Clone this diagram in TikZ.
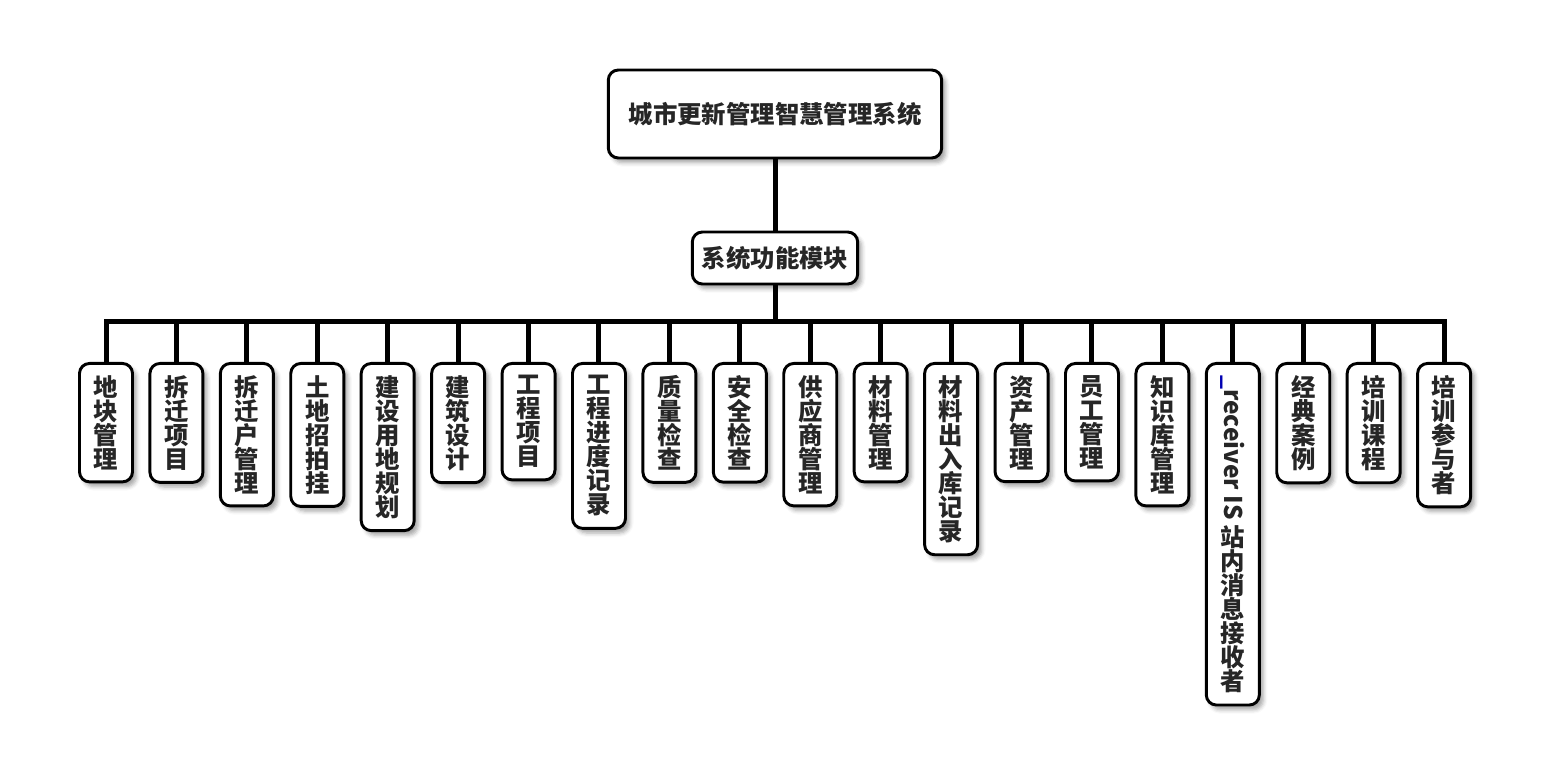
\documentclass[tikz,border=0pt]{standalone}
\usepackage{fontspec}
\setmainfont{Noto Sans CJK SC}
\usepackage{graphicx}
\usetikzlibrary{positioning,shadows.blur}

\begin{document}
\begin{tikzpicture}[
  x=0.75pt, y=0.75pt,
  every node/.style={font=\bfseries\fontsize{18.3pt}{18pt}\selectfont, text=black!85},
  box/.style={draw, line width=2.2pt, rounded corners=7.5pt, fill=white,
              align=center,
              blur shadow={shadow xshift=3pt, shadow yshift=-3.5pt,
                           shadow blur radius=3pt, shadow opacity=35}},
  root/.style={box, minimum width=250pt, minimum height=66pt},
  module/.style={box, minimum width=124pt, minimum height=39pt},
  leaf/.style={box, minimum width=39.75pt, inner xsep=2pt, inner ysep=9pt},
  link/.style={line width=3.75pt},
]
\useasboundingbox (0,0) rectangle (1550,778);

\node[root] (sys) at (775,664) {城市更新管理智慧管理系统};
\node[module] (mod) at (775,520) {系统功能模块};
\coordinate (bus) at (775,456);

\node[leaf, anchor=north] (l1) at (106,416) {地\\块\\管\\理};
\node[leaf, right=10.87pt of l1.north east, anchor=north west] (l2) {拆\\迁\\项\\目};
\node[leaf, right=10.87pt of l2.north east, anchor=north west] (l3) {拆\\迁\\户\\管\\理};
\node[leaf, right=10.87pt of l3.north east, anchor=north west] (l4) {土\\地\\招\\拍\\挂};
\node[leaf, right=10.87pt of l4.north east, anchor=north west] (l5) {建\\设\\用\\地\\规\\划};
\node[leaf, right=10.87pt of l5.north east, anchor=north west] (l6) {建\\筑\\设\\计};
\node[leaf, right=10.87pt of l6.north east, anchor=north west] (l7) {工\\程\\项\\目};
\node[leaf, right=10.87pt of l7.north east, anchor=north west] (l8) {工\\程\\进\\度\\记\\录};
\node[leaf, right=10.87pt of l8.north east, anchor=north west] (l9) {质\\量\\检\\查};
\node[leaf, right=10.87pt of l9.north east, anchor=north west] (l10) {安\\全\\检\\查};
\node[leaf, right=10.87pt of l10.north east, anchor=north west] (l11) {供\\应\\商\\管\\理};
\node[leaf, right=10.87pt of l11.north east, anchor=north west] (l12) {材\\料\\管\\理};
\node[leaf, right=10.87pt of l12.north east, anchor=north west] (l13) {材\\料\\出\\入\\库\\记\\录};
\node[leaf, right=10.87pt of l13.north east, anchor=north west] (l14) {资\\产\\管\\理};
\node[leaf, right=10.87pt of l14.north east, anchor=north west] (l15) {员\\工\\管\\理};
\node[leaf, right=10.87pt of l15.north east, anchor=north west] (l16) {知\\识\\库\\管\\理};
\node[leaf, right=10.87pt of l16.north east, anchor=north west] (l17)
  {\rotatebox{-90}{\textcolor{blue!70!black}{\_}receiver\ IS\hspace{3.5pt}}\\站\\内\\消\\息\\接\\收\\者};
\node[leaf, right=10.87pt of l17.north east, anchor=north west] (l18) {经\\典\\案\\例};
\node[leaf, right=10.87pt of l18.north east, anchor=north west] (l19) {培\\训\\课\\程};
\node[leaf, right=10.87pt of l19.north east, anchor=north west] (l20) {培\\训\\参\\与\\者};

\draw[link] (sys) -- (mod);
\draw[link] (mod) -- (bus);
\draw[link] (bus) -| (l1);
\draw[link] (bus) -| (l2);
\draw[link] (bus) -| (l3);
\draw[link] (bus) -| (l4);
\draw[link] (bus) -| (l5);
\draw[link] (bus) -| (l6);
\draw[link] (bus) -| (l7);
\draw[link] (bus) -| (l8);
\draw[link] (bus) -| (l9);
\draw[link] (bus) -| (l10);
\draw[link] (bus) -| (l11);
\draw[link] (bus) -| (l12);
\draw[link] (bus) -| (l13);
\draw[link] (bus) -| (l14);
\draw[link] (bus) -| (l15);
\draw[link] (bus) -| (l16);
\draw[link] (bus) -| (l17);
\draw[link] (bus) -| (l18);
\draw[link] (bus) -| (l19);
\draw[link] (bus) -| (l20);
\end{tikzpicture}
\end{document}
